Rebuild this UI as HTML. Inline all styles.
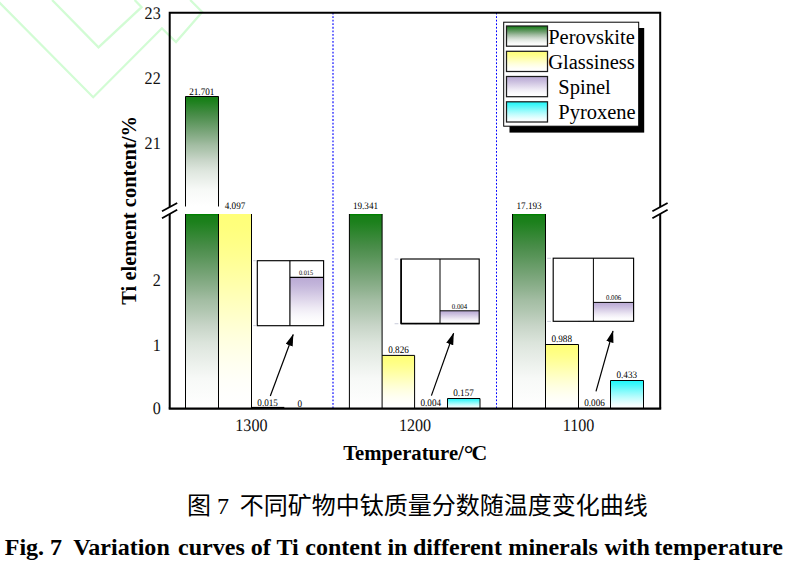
<!DOCTYPE html>
<html lang="zh">
<head>
<meta charset="utf-8">
<title>Fig. 7</title>
<style>
html,body{margin:0;padding:0;background:#fff;}
body{width:792px;height:567px;overflow:hidden;}
svg{display:block;}
.tk{font-family:"Liberation Serif",serif;font-size:17.6px;text-rendering:geometricPrecision;fill:#111;}
.vl{font-family:"Liberation Serif",serif;font-size:10px;text-rendering:geometricPrecision;fill:#000;}
.vs{font-family:"Liberation Serif",serif;font-size:6px;text-rendering:geometricPrecision;fill:#000;}
.lg{font-family:"Liberation Serif",serif;font-size:20.5px;fill:#000;}
.ax{font-family:"Liberation Serif",serif;font-weight:bold;font-size:20.5px;fill:#000;}
.cn{font-family:"Liberation Serif","Noto Sans CJK SC",sans-serif;font-size:24px;fill:#000;}
.en{font-family:"Liberation Serif",serif;font-weight:bold;font-size:24.06px;fill:#000;}
</style>
</head>
<body>
<svg width="792" height="567" viewBox="0 0 792 567">
<defs>
<linearGradient id="gG" x1="0" y1="0" x2="0" y2="1"><stop offset="0.000" stop-color="#168016"/><stop offset="0.040" stop-color="#1c801c"/><stop offset="0.165" stop-color="#488c48"/><stop offset="0.216" stop-color="#589458"/><stop offset="0.320" stop-color="#7aa57a"/><stop offset="0.400" stop-color="#94b494"/><stop offset="0.443" stop-color="#a3bda3"/><stop offset="0.495" stop-color="#b0c6b0"/><stop offset="0.577" stop-color="#c8d5c8"/><stop offset="0.660" stop-color="#dbe4db"/><stop offset="0.700" stop-color="#e2e9e2"/><stop offset="0.845" stop-color="#f7f9f7"/><stop offset="1.000" stop-color="#ffffff"/></linearGradient>
<linearGradient id="gY" x1="0" y1="0" x2="0" y2="1"><stop offset="0.000" stop-color="#ffff78"/><stop offset="0.071" stop-color="#ffff7d"/><stop offset="0.143" stop-color="#ffff86"/><stop offset="0.214" stop-color="#ffff91"/><stop offset="0.286" stop-color="#ffff9e"/><stop offset="0.357" stop-color="#ffffab"/><stop offset="0.429" stop-color="#ffffb9"/><stop offset="0.500" stop-color="#ffffc6"/><stop offset="0.571" stop-color="#ffffd3"/><stop offset="0.643" stop-color="#ffffdf"/><stop offset="0.714" stop-color="#ffffe9"/><stop offset="0.786" stop-color="#fffff2"/><stop offset="0.857" stop-color="#fffff9"/><stop offset="0.929" stop-color="#fffffd"/><stop offset="1.000" stop-color="#ffffff"/></linearGradient>
<linearGradient id="gP" x1="0" y1="0" x2="0" y2="1"><stop offset="0.000" stop-color="#bcacd6"/><stop offset="0.071" stop-color="#beafd7"/><stop offset="0.143" stop-color="#c2b4da"/><stop offset="0.214" stop-color="#c8bbdd"/><stop offset="0.286" stop-color="#cec3e1"/><stop offset="0.357" stop-color="#d5cbe5"/><stop offset="0.429" stop-color="#dcd3e9"/><stop offset="0.500" stop-color="#e2dbed"/><stop offset="0.571" stop-color="#e9e3f1"/><stop offset="0.643" stop-color="#efebf5"/><stop offset="0.714" stop-color="#f4f1f8"/><stop offset="0.786" stop-color="#f8f7fb"/><stop offset="0.857" stop-color="#fcfbfd"/><stop offset="0.929" stop-color="#fefefe"/><stop offset="1.000" stop-color="#ffffff"/></linearGradient>
<linearGradient id="gC" x1="0" y1="0" x2="0" y2="1"><stop offset="0.000" stop-color="#1cf8fa"/><stop offset="0.071" stop-color="#2df8fa"/><stop offset="0.143" stop-color="#40f8fa"/><stop offset="0.214" stop-color="#54f9fb"/><stop offset="0.286" stop-color="#69f9fb"/><stop offset="0.357" stop-color="#7dfafb"/><stop offset="0.429" stop-color="#90fbfc"/><stop offset="0.500" stop-color="#a3fbfc"/><stop offset="0.571" stop-color="#b5fcfd"/><stop offset="0.643" stop-color="#c6fdfd"/><stop offset="0.714" stop-color="#d5fdfe"/><stop offset="0.786" stop-color="#e3fefe"/><stop offset="0.857" stop-color="#f0feff"/><stop offset="0.929" stop-color="#f9ffff"/><stop offset="1.000" stop-color="#ffffff"/></linearGradient>
<marker id="ah" markerWidth="13" markerHeight="8" refX="11.5" refY="4" orient="auto" markerUnits="userSpaceOnUse"><path d="M0,0.3 L12,4 L0,7.7 Z" fill="#000"/></marker>
</defs>
<rect width="792" height="567" fill="#fff"/>

<!-- watermark -->
<g fill="none" stroke="#d2fcd4" stroke-width="2.25">
<polyline points="52.1,0 98.5,47.4 141.6,7.1 134.6,0"/>
<polyline points="-3,0 93.2,97.2 161.9,28.3 176,42 202.2,12 190.2,0"/>
</g>

<!-- bars: fills -->
<g stroke="none">
<rect x="185.5" y="96.5" width="33" height="110" fill="url(#gG)"/>
<rect x="185.5" y="214" width="33" height="194.6" fill="url(#gG)"/>
<rect x="218.5" y="214" width="33" height="194.6" fill="url(#gY)"/>
<rect x="349.3" y="214" width="32.8" height="194.6" fill="url(#gG)"/>
<rect x="382.1" y="355.4" width="32.5" height="53.2" fill="url(#gY)"/>
<rect x="447.5" y="398.5" width="32.5" height="10.1" fill="url(#gC)"/>
<rect x="512.5" y="214" width="33" height="194.6" fill="url(#gG)"/>
<rect x="545.5" y="344.5" width="33" height="64.1" fill="url(#gY)"/>
<rect x="610.5" y="380.5" width="33" height="28.1" fill="url(#gC)"/>
</g>
<g fill="#008000"><rect x="185.5" y="214" width="33" height="1.3"/><rect x="349.3" y="214" width="32.8" height="1.3"/><rect x="512.5" y="214" width="33" height="1.3"/></g>
<!-- bars: outlines -->
<g stroke="#000" stroke-width="1" fill="none">
<path d="M185.5,206.5 V96.5 H218.5 V206.5"/>
<path d="M185.5,408.6 V214 M218.5,408.6 V214 M251.5,408.6 V214"/>
<path d="M349.4,408.6 V214 M382.1,408.6 V214"/>
<path d="M382.1,355.4 H414.6 V408.6"/>
<path d="M447.5,408.6 V398.5 H480 V408.6"/>
<path d="M512.5,408.6 V214 M545.5,408.6 V214"/>
<path d="M545.5,344.5 H578.5 V408.6"/>
<path d="M610.5,408.6 V380.5 H643.5 V408.6"/>
</g>

<!-- insets -->
<g stroke="none">
<rect x="257.3" y="260.7" width="66.3" height="65" fill="#fff"/>
<rect x="289.9" y="277.4" width="33.7" height="48.3" fill="url(#gP)"/>
<rect x="401" y="259" width="78.2" height="64.7" fill="#fff"/>
<rect x="440" y="310.8" width="39.2" height="12.9" fill="url(#gP)"/>
<rect x="553.2" y="258.2" width="80.4" height="63.1" fill="#fff"/>
<rect x="593.4" y="302.4" width="40.2" height="18.9" fill="url(#gP)"/>
</g>
<g fill="#c3c7d6" stroke="none">
<rect x="253.2" y="260.3" width="2.6" height="0.9"/><rect x="253.2" y="325.2" width="2.6" height="0.9"/>
<rect x="394.6" y="258.6" width="3.8" height="0.9"/><rect x="394.6" y="323.3" width="3.8" height="0.9"/>
<rect x="547.2" y="257.8" width="3.8" height="0.9"/><rect x="547.2" y="320.9" width="3.8" height="0.9"/>
<rect x="414.6" y="323.3" width="2.6" height="0.9"/><rect x="578" y="320.9" width="2.6" height="0.9"/>
</g>
<g stroke="#000" stroke-width="1.15" fill="none">
<rect x="257.3" y="260.7" width="66.3" height="65"/>
<path d="M289.9,260.7 V325.7 M289.9,277.4 H323.6"/>
<rect x="401" y="259" width="78.2" height="64.7"/>
<path d="M401.2,259 V323.7 M401,323.5 H479.2" stroke-width="1.5"/>
<path d="M440,259 V323.7 M440,310.8 H479.2" stroke-width="1"/>
<rect x="553.2" y="258.2" width="80.4" height="63.1"/>
<path d="M593.4,258.2 V321.3 M593.4,302.4 H633.6" stroke-width="1"/>
</g>

<!-- arrows -->
<g stroke="#000" stroke-width="1.2" fill="none">
<line x1="270.3" y1="396" x2="293.2" y2="334.5" marker-end="url(#ah)"/>
<line x1="431.4" y1="395.6" x2="453.6" y2="333.2" marker-end="url(#ah)"/>
<line x1="596" y1="391.4" x2="613" y2="331" marker-end="url(#ah)"/>
</g>

<rect x="251.5" y="406.9" width="32.8" height="1.5" fill="#000"/>
<!-- dotted separators -->
<g stroke="#4a4aff" stroke-width="1.6" stroke-dasharray="1.8,1.748" fill="none">
<line x1="333" y1="12.65" x2="333" y2="408"/>
<line x1="496.5" y1="12.65" x2="496.5" y2="408" stroke="#0000ff" stroke-width="1"/>
</g>

<!-- frame -->
<g stroke="#000" stroke-width="2" fill="none" stroke-linecap="butt">
<path d="M169.7,207 V12.7 H660.2 V207"/>
<path d="M169.7,214 V408.6 M660.2,214 V408.6"/>
<path d="M168.7,408.6 H661.2" stroke-width="2.4"/>
</g>
<g stroke="#000" stroke-width="1.8" fill="none">
<path d="M162,211.2 L177.2,203 M162,218.2 L177.2,209.7"/>
<path d="M652.4,211.2 L667.6,203 M652.4,218.2 L667.6,209.7"/>
</g>

<!-- y ticks -->
<g class="tk" text-anchor="end">
<text transform="translate(160.7,18.6) scale(0.915,1)">23</text>
<text transform="translate(160.7,83.6) scale(0.915,1)">22</text>
<text transform="translate(160.7,148.7) scale(0.915,1)">21</text>
<text transform="translate(160.7,285.9) scale(0.915,1)">2</text>
<text transform="translate(160.7,351.2) scale(0.915,1)">1</text>
<text transform="translate(160.7,414.4) scale(0.915,1)">0</text>
</g>
<g class="tk" text-anchor="middle">
<text transform="translate(251.4,431.4) scale(0.915,1)">1300</text>
<text transform="translate(415.0,431.4) scale(0.915,1)">1200</text>
<text transform="translate(578.5,431.4) scale(0.915,1)">1100</text>
</g>

<!-- value labels -->
<g class="vl" text-anchor="middle">
<text transform="translate(201.8,94.8) scale(0.915,1)">21.701</text>
<text transform="translate(235,209.3) scale(0.915,1)">4.097</text>
<text transform="translate(267.6,405.9) scale(0.915,1)">0.015</text>
<text transform="translate(299.7,406.6) scale(0.915,1)">0</text>
<text transform="translate(365.5,209) scale(0.915,1)">19.341</text>
<text transform="translate(398.5,353) scale(0.915,1)">0.826</text>
<text transform="translate(430.8,405.9) scale(0.915,1)">0.004</text>
<text transform="translate(463.5,395.7) scale(0.915,1)">0.157</text>
<text transform="translate(529.1,209) scale(0.915,1)">17.193</text>
<text transform="translate(561.7,342) scale(0.915,1)">0.988</text>
<text transform="translate(594.5,405.9) scale(0.915,1)">0.006</text>
<text transform="translate(626.8,378) scale(0.915,1)">0.433</text>
</g>
<g class="vs" text-anchor="middle">
<text transform="translate(306,274.8) scale(0.915,1)" style="font-size:6.9px">0.015</text>
<text transform="translate(459.5,309) scale(0.915,1)" style="font-size:7.5px">0.004</text>
<text transform="translate(613.6,300.3) scale(0.915,1)" style="font-size:7.4px">0.006</text>
</g>

<!-- legend -->
<rect x="509.5" y="28" width="134.7" height="104.6" fill="#000"/>
<rect x="503.7" y="22.2" width="135" height="104" fill="#fff" stroke="#000" stroke-width="1"/>
<g stroke="#1c1c1c" stroke-width="1.25">
<rect x="506.5" y="26" width="41" height="20.2" fill="url(#gG)"/>
<rect x="506.5" y="51.3" width="41" height="20.2" fill="url(#gY)"/>
<rect x="506.5" y="76.5" width="41" height="20.2" fill="url(#gP)"/>
<rect x="506.5" y="101.8" width="41" height="20.2" fill="url(#gC)"/>
</g>
<g class="lg">
<text x="548.2" y="43.8">Perovskite</text>
<text x="548.2" y="69.1">Glassiness</text>
<text x="558.3" y="93.6">Spinel</text>
<text x="558.3" y="119.3">Pyroxene</text>
</g>

<!-- axis titles -->
<text class="ax" text-anchor="middle" transform="translate(135.7,210.4) rotate(-90)">Ti element content/%</text>
<text class="ax" x="343.2" y="460" style="font-size:20.7px">Temperature/<tspan style="font-size:24.5px" dx="-0.2" dy="2.4">°</tspan><tspan style="font-size:21.8px" dx="-2.1" dy="-2.2">C</tspan></text>

<!-- captions -->
<text class="cn" y="514.3" xml:space="preserve"><tspan x="187">图 7  </tspan><tspan x="239.8">不同矿物中钛质量分数随温度变化曲线</tspan></text>
<text class="en" x="4.7" y="555.4" xml:space="preserve">Fig. 7  <tspan dx="-0.6">Variation </tspan><tspan dx="2.2">curves of Ti </tspan><tspan dx="0.6">content in </tspan><tspan dx="-0.6">different </tspan><tspan dx="0.4">minerals </tspan><tspan dx="0.6">with </tspan><tspan dx="-1.8" style="letter-spacing:0.1px">temperature</tspan></text>
</svg>
</body>
</html>
